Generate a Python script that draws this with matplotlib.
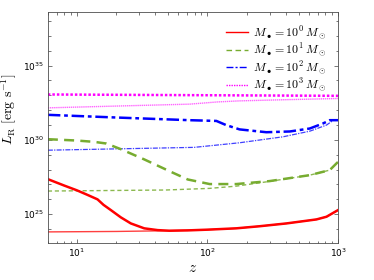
import matplotlib
matplotlib.use("Agg")
import matplotlib.pyplot as plt
import matplotlib.ticker as mticker
import numpy as np

plt.rcParams['mathtext.fontset'] = 'cm'

# thick curves
z_red = [6, 8, 10, 12, 14.4, 16, 18.2, 21.7, 25.9, 32.8, 41.6, 51, 70, 100, 166, 250, 402, 683, 815, 1000]
L_red = [27.35, 26.92, 26.6, 26.3, 25.99, 25.62, 25.27, 24.78, 24.37, 24.04, 23.92, 23.88, 23.9, 23.95, 24.04, 24.18, 24.37, 24.64, 24.82, 25.27]
z_grn = [6, 10, 13.6, 16.8, 21.7, 32.8, 52.6, 70.6, 104, 166, 299, 607, 863, 1000]
L_grn = [30.04, 29.95, 29.86, 29.75, 29.37, 28.68, 27.84, 27.33, 27.02, 27.02, 27.22, 27.62, 27.96, 28.52]
z_blu = [6, 20, 73, 117, 139, 176, 282, 427, 607, 767, 863, 1000]
L_blu = [31.68, 31.5, 31.32, 31.27, 30.99, 30.70, 30.51, 30.56, 30.76, 31.1, 31.32, 31.32]
z_mag = [6, 100, 1000]
L_mag = [33.05, 33.0, 32.96]

# thin curves
zt_red = [6, 20, 51, 100, 166, 250, 402, 683, 815, 1000]
Lt_red = [23.8, 23.83, 23.88, 23.95, 24.04, 24.18, 24.37, 24.64, 24.82, 25.27]
zt_grn = [6, 48, 104, 166, 299, 607, 863, 1000]
Lt_grn = [26.55, 26.62, 26.73, 26.88, 27.2, 27.62, 27.96, 28.52]
zt_blu = [6, 79, 176, 378, 607, 815, 920, 1000]
Lt_blu = [29.3, 29.49, 29.8, 30.2, 30.58, 30.99, 31.32, 31.32]
zt_mag = [6, 73, 120, 176, 400, 1000]
Lt_mag = [32.15, 32.4, 32.55, 32.62, 32.7, 32.78]

labels = [r'$M_\bullet = 10^0\,M_\odot$', r'$M_\bullet = 10^1\,M_\odot$',
          r'$M_\bullet = 10^2\,M_\odot$', r'$M_\bullet = 10^3\,M_\odot$']

red = (1, 0, 0)
grn = '#77AC30'
blu = (0, 0, 1)
mag = (1, 0, 1)

fig = plt.figure(figsize=(3.74, 2.80), dpi=100)
ax = fig.add_axes([0.128, 0.132, 0.776, 0.825])

def p(z, L):
    return np.array(z), 10.0 ** np.array(L)

ax.plot(*p(zt_red, Lt_red), color=red, lw=1.0, alpha=0.75)
ax.plot(*p(zt_grn, Lt_grn), color=grn, lw=1.0, ls=(0, (3, 2)), alpha=0.85)
ax.plot(*p(zt_blu, Lt_blu), color=blu, lw=0.9, ls=(0, (4, 1, 1, 1)), alpha=0.75)
ax.plot(*p(zt_mag, Lt_mag), color=mag, lw=1.0, ls=(0, (1, 0.5)), alpha=0.6)

ax.plot(*p(z_red, L_red), color=red, lw=1.8, label=labels[0])
ax.plot(*p(z_grn, L_grn), color=grn, lw=1.8, ls=(0, (4, 2.5)), label=labels[1])
ax.plot(*p(z_blu, L_blu), color=blu, lw=1.8, ls=(0, (5, 1.5, 1.5, 1.5)), label=labels[2])
ax.plot(*p(z_mag, L_mag), color=mag, lw=1.8, ls=(0, (1, 0.8)), label=labels[3])

ax.set_xscale('log')
ax.set_yscale('log')
ax.set_xlim(6, 1000)
ax.set_ylim(10**23.05, 10**38.6)

ax.yaxis.set_major_locator(mticker.FixedLocator([1e25, 1e30, 1e35]))
ax.yaxis.set_minor_locator(mticker.FixedLocator([10.0 ** k for k in range(23, 39)]))
ax.yaxis.set_minor_formatter(mticker.NullFormatter())
fmt = mticker.FuncFormatter(lambda v, pos: r'$\mathregular{10^{%d}}$' % round(np.log10(v)))
ax.yaxis.set_major_formatter(fmt)
ax.xaxis.set_major_formatter(fmt)

ax.tick_params(which='both', direction='in', top=True, right=True, labelsize=6.5,
               width=0.5, colors='0.25', labelcolor='black', pad=2.5)
ax.tick_params(which='major', length=3)
ax.tick_params(which='minor', length=1.8)
for s in ax.spines.values():
    s.set_linewidth(0.6)
    s.set_color('0.3')

ax.set_xlabel(r'$z$', fontsize=11, labelpad=1)
ax.set_ylabel(r'$L_{\rm R}\ [{\rm erg\ s^{-1}}]$', fontsize=10)
ax.yaxis.set_label_coords(-0.1, 0.58)

leg = ax.legend(loc='upper right', frameon=False, fontsize=8.6, handlelength=1.9,
                labelspacing=0.0, borderaxespad=0.6, handletextpad=0.4)
for h in leg.get_lines():
    h.set_linewidth(1.0)

fig.savefig('out.png', dpi=100)
